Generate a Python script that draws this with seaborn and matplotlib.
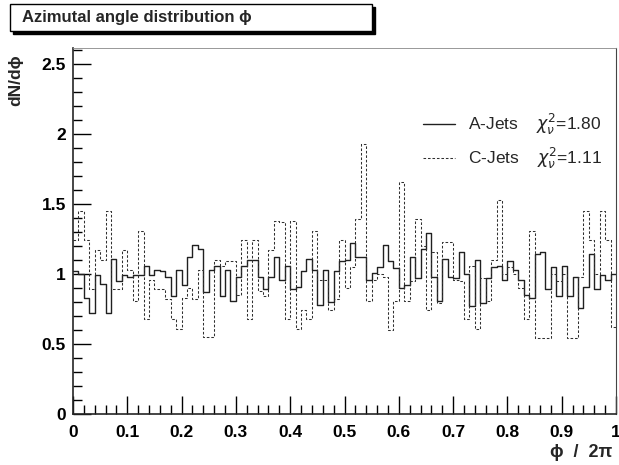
import numpy as np
import pandas as pd
import seaborn as sns
import matplotlib.pyplot as plt
from matplotlib.lines import Line2D
from matplotlib.patches import Rectangle
from matplotlib.ticker import MultipleLocator, FuncFormatter

# 1) DATA ─────────────────────────────────────────────────────────────────────
n_bins = 100
phi_range = (0.0, 1.0)

a_jets = [1.02, 1.00, 0.83, 0.72, 0.99, 0.93, 0.72, 1.11, 0.95, 0.99,
          0.98, 0.99, 0.99, 1.06, 0.99, 1.03, 1.02, 0.98, 0.84, 1.03,
          0.92, 1.12, 1.21, 1.18, 0.87, 1.03, 1.06, 0.84, 1.03, 0.81,
          0.98, 1.06, 1.10, 1.10, 0.98, 0.89, 0.98, 1.12, 0.96, 1.06,
          0.89, 0.91, 1.02, 1.11, 1.03, 0.78, 1.03, 0.80, 1.02, 1.09,
          1.10, 1.22, 1.12, 1.12, 0.96, 1.01, 1.05, 1.21, 1.09, 1.04,
          0.90, 0.92, 1.12, 0.97, 1.18, 1.29, 0.98, 0.81, 1.11, 0.98,
          0.97, 1.16, 1.00, 0.77, 1.10, 0.79, 0.97, 1.05, 1.06, 0.96,
          1.09, 1.03, 0.96, 0.85, 0.83, 1.14, 1.16, 0.89, 1.05, 0.84,
          1.06, 0.84, 0.98, 0.76, 0.91, 1.14, 0.89, 0.99, 0.96, 1.00]

c_jets = [1.24, 1.45, 1.24, 0.89, 1.17, 1.10, 1.45, 0.89, 0.89, 1.17,
          1.03, 0.81, 1.31, 0.68, 0.96, 0.89, 0.89, 0.82, 0.68, 0.61,
          0.83, 0.90, 0.82, 1.03, 0.55, 0.55, 1.10, 1.06, 1.09, 1.09,
          0.85, 1.24, 0.68, 1.24, 0.88, 0.84, 1.17, 1.38, 1.37, 0.68,
          1.38, 0.61, 0.74, 0.68, 1.31, 0.96, 0.96, 0.74, 0.82, 1.24,
          0.90, 1.05, 1.39, 1.93, 0.81, 0.96, 1.00, 0.98, 0.60, 0.81,
          1.66, 0.81, 0.95, 1.39, 1.20, 0.74, 1.16, 0.79, 1.23, 1.23,
          0.96, 0.95, 0.68, 1.06, 0.61, 0.97, 0.81, 1.10, 1.53, 1.00,
          1.05, 1.00, 0.90, 0.68, 1.31, 0.54, 0.54, 0.54, 1.00, 0.95,
          1.00, 0.54, 0.54, 0.98, 1.45, 1.24, 1.00, 1.45, 1.24, 0.62]

chi2_a = 1.80
chi2_c = 1.11

# bin centres, one entry per bin, weighted by dN/dphi
edges = np.linspace(*phi_range, n_bins + 1)
centres = 0.5 * (edges[:-1] + edges[1:])
df = pd.DataFrame({"phi": np.concatenate([centres, centres]),
                   "dndphi": a_jets + c_jets,
                   "sample": ["A-Jets"] * n_bins + ["C-Jets"] * n_bins})

# 2) STYLE ────────────────────────────────────────────────────────────────────
sns.set_style("ticks")
plt.rcParams["font.family"] = ["Liberation Sans", "DejaVu Sans"]
plt.rcParams["mathtext.fontset"] = "dejavusans"

fig = plt.figure(figsize=(6.19, 4.65), dpi=100)
ax = fig.add_axes([73 / 619, 51 / 465, 543 / 619, 366 / 465])

# 3) HISTOGRAMS ───────────────────────────────────────────────────────────────
styles = {"A-Jets": dict(linestyle="-", linewidth=1.0, color="#202020"),
          "C-Jets": dict(linestyle=(0, (2.5, 1.8)), linewidth=0.75,
                         color="#303030")}
for name, sub in df.groupby("sample"):
    sns.histplot(data=sub, x="phi", weights="dndphi", bins=n_bins,
                 binrange=phi_range, element="step", fill=False,
                 ax=ax, **styles[name])

ax.set_xlim(0, 1)
ax.set_ylim(0, 2.614)
ax.set_xlabel("")
ax.set_ylabel("")

# ROOT-like axes: ticks inside, bold labels
ax.xaxis.set_major_locator(MultipleLocator(0.1))
ax.xaxis.set_minor_locator(MultipleLocator(0.02))
ax.yaxis.set_major_locator(MultipleLocator(0.5))
ax.yaxis.set_minor_locator(MultipleLocator(0.1))
fmt = FuncFormatter(lambda v, _: f"{v:g}")
ax.xaxis.set_major_formatter(fmt)
ax.yaxis.set_major_formatter(fmt)
ax.tick_params(which="both", direction="in", top=False, right=False,
               colors="black", width=1)
ax.tick_params(which="major", length=13, labelsize=12.5)
ax.tick_params(axis="x", which="major", pad=8)
ax.tick_params(axis="y", which="major", pad=5)
ax.tick_params(which="minor", length=6.5)
for lab in ax.get_xticklabels() + ax.get_yticklabels():
    lab.set_fontweight("bold")
for side in ["left", "bottom"]:
    ax.spines[side].set_linewidth(1.2)
ax.spines["right"].set_color("#444444")
ax.spines["top"].set_color("#888888")
ax.spines["top"].set_linewidth(0.6)

# axis titles
fig.text(612 / 619, 1 - 452 / 465, "ϕ  /  2π", ha="right", va="center",
         fontsize=13, fontweight="bold")
fig.text(16 / 619, 1 - 54 / 465, "dN/dϕ", rotation=90, ha="center",
         va="top", fontsize=12.5, fontweight="bold")

# 4) LEGEND ───────────────────────────────────────────────────────────────────
handles = [Line2D([], [], **styles["A-Jets"]),
           Line2D([], [], **styles["C-Jets"])]
labels = [r"A-Jets    $\chi^{2}_{\nu}$=%.2f" % chi2_a,
          r"C-Jets    $\chi^{2}_{\nu}$=%.2f" % chi2_c]
ax.legend(handles, labels, loc="upper left", frameon=False, fontsize=12.5,
          handlelength=1.85, handletextpad=0.75, labelspacing=0.55,
          bbox_to_anchor=(407 / 619, 1 - 96 / 465),
          bbox_transform=fig.transFigure)

# 5) TITLE BOX WITH SHADOW ────────────────────────────────────────────────────
bx, by, bw, bh = 10 / 619, 1 - 31 / 465, 362 / 619, 27 / 465
fig.add_artist(Rectangle((bx + 3 / 619, by - 3 / 465), bw, bh,
                         transform=fig.transFigure, facecolor="black",
                         edgecolor="black", zorder=5))
fig.add_artist(Rectangle((bx, by), bw, bh, transform=fig.transFigure,
                         facecolor="white", edgecolor="black", lw=1,
                         zorder=6))
fig.text(22 / 619, by + bh / 2, "Azimutal angle distribution ϕ",
         ha="left", va="center", fontsize=12, fontweight="bold",
         zorder=7)

fig.savefig("out.png", dpi=100)
